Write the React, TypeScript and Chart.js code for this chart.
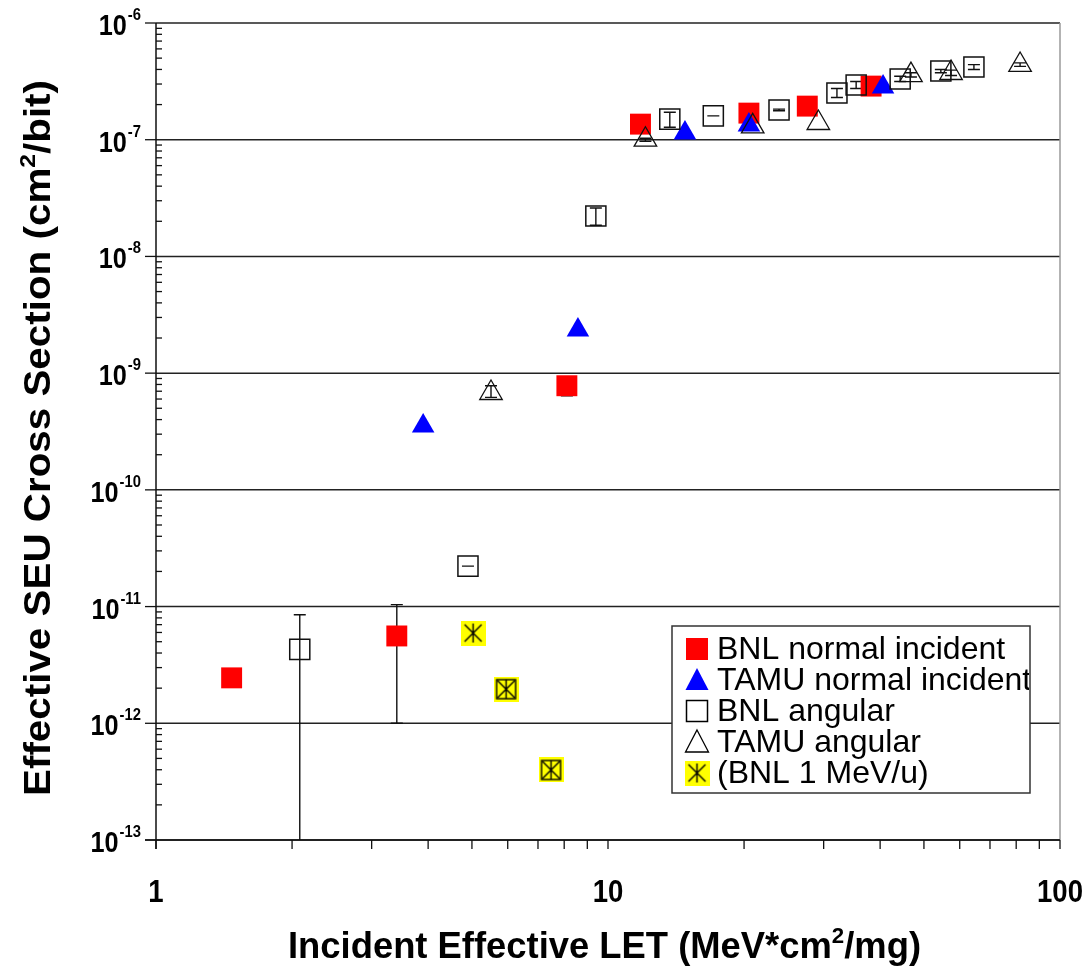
import React, { useEffect, useRef } from 'react';
import { Chart, registerables } from 'chart.js';

Chart.register(...registerables);

// ---------- Data ----------
const seriesLabels = [
  'BNL normal incident',
  'TAMU normal incident',
  'BNL angular',
  'TAMU angular',
  '(BNL 1 MeV/u)',
];

const bnlNormalX = [1.47, 3.41, 8.11, 11.8, 20.5, 27.6, 38.2];
const bnlNormalY = [2.45e-12, 5.6e-12, 7.8e-10, 1.36e-7, 1.69e-7, 1.94e-7, 2.88e-7];
const bnlNormalLo = [null, 1e-12, 6.4e-10, null, null, null, null];
const bnlNormalHi = [null, 1.04e-11, 7.8e-10, null, null, null, null];

const tamuNormalX = [3.9, 8.58, 14.8, 20.5, 40.6];
const tamuNormalY = [3.52e-10, 2.34e-9, 1.14e-7, 1.34e-7, 2.83e-7];

const bnlAngX = [2.08, 4.9, 9.4, 13.7, 17.1, 23.9, 32.1, 35.4, 44.3, 54.5, 64.5];
const bnlAngY = [4.3e-12, 2.22e-11, 2.22e-8, 1.5e-7, 1.6e-7, 1.8e-7, 2.51e-7, 2.94e-7, 3.31e-7, 3.88e-7, 4.2e-7];
const bnlAngLo = [1e-13, 2.22e-11, 1.85e-8, 1.28e-7, 1.6e-7, 1.77e-7, 2.3e-7, 2.75e-7, 3.15e-7, 3.75e-7, 4.0e-7];
const bnlAngHi = [8.5e-12, 2.22e-11, 2.6e-8, 1.72e-7, 1.6e-7, 1.83e-7, 2.75e-7, 3.15e-7, 3.5e-7, 4.0e-7, 4.4e-7];

const tamuAngX = [5.51, 12.1, 20.9, 29.2, 46.8, 57.4, 81.6];
const tamuAngY = [6.76e-10, 1.0e-7, 1.3e-7, 1.39e-7, 3.58e-7, 3.73e-7, 4.37e-7];
const tamuAngLo = [6.2e-10, 0.97e-7, null, null, 3.45e-7, 3.55e-7, 4.25e-7];
const tamuAngHi = [7.8e-10, 1.03e-7, null, null, 3.75e-7, 3.95e-7, 4.55e-7];

const bnl1X = [5.03, 5.95, 7.48];
const bnl1Y = [5.93e-12, 1.96e-12, 3.98e-13];
const bnl1Boxed = [false, true, true];

const xTickValues = [1, 10, 100];
const yDecades = [-13, -12, -11, -10, -9, -8, -7, -6];

const xTitleSegs = [
  { t: 'Incident Effective LET (MeV*cm', sup: false },
  { t: '2', sup: true },
  { t: '/mg)', sup: false },
];
const yTitleSegs = [
  { t: 'Effective SEU Cross Section (cm', sup: false },
  { t: '2', sup: true },
  { t: '/bit)', sup: false },
];

const FONT = '"Liberation Sans", Arial, Helvetica, sans-serif';

function pts(xs: number[], ys: number[]) {
  return xs.map((x, i) => ({ x, y: ys[i] }));
}

function makeAsterisk(boxed: boolean, size = 25): HTMLCanvasElement {
  const c = document.createElement('canvas');
  c.width = size;
  c.height = size;
  const g = c.getContext('2d')!;
  g.fillStyle = '#ffff00';
  g.fillRect(0, 0, size, size);
  g.strokeStyle = '#000';
  g.lineWidth = 1.4;
  const m = 3;
  if (boxed) g.strokeRect(m, m, size - 2 * m, size - 2 * m);
  g.beginPath();
  g.moveTo(size / 2, m);
  g.lineTo(size / 2, size - m);
  g.moveTo(m + 1, m + 1);
  g.lineTo(size - m - 1, size - m - 1);
  g.moveTo(size - m - 1, m + 1);
  g.lineTo(m + 1, size - m - 1);
  g.stroke();
  return c;
}

function drawRich(
  ctx: CanvasRenderingContext2D,
  segs: { t: string; sup: boolean }[],
  size: number,
  supSize: number,
  supRise: number,
  targetW: number
) {
  let w = 0;
  for (const s of segs) {
    ctx.font = `bold ${s.sup ? supSize : size}px ${FONT}`;
    w += ctx.measureText(s.t).width;
  }
  const sx = targetW / w;
  ctx.scale(sx, 1);
  let x = 0;
  ctx.textAlign = 'left';
  ctx.textBaseline = 'alphabetic';
  for (const s of segs) {
    ctx.font = `bold ${s.sup ? supSize : size}px ${FONT}`;
    ctx.fillText(s.t, x, s.sup ? -supRise : 0);
    x += ctx.measureText(s.t).width;
  }
}

const errorSets = [
  { xs: bnlNormalX, lo: bnlNormalLo, hi: bnlNormalHi },
  { xs: bnlAngX, lo: bnlAngLo, hi: bnlAngHi },
  { xs: tamuAngX, lo: tamuAngLo, hi: tamuAngHi },
];

const decorPlugin = {
  id: 'decor',
  beforeDatasetsDraw(chart: any) {
    const { ctx, chartArea: ca } = chart;
    const xs = chart.scales.x;
    const ys = chart.scales.y;
    ctx.save();
    // horizontal grid lines at decades
    ctx.strokeStyle = '#222';
    ctx.lineWidth = 1.5;
    for (const e of yDecades) {
      const py = ys.getPixelForValue(Math.pow(10, e));
      ctx.beginPath();
      ctx.moveTo(ca.left, py);
      ctx.lineTo(ca.right, py);
      ctx.stroke();
    }
    // right frame
    ctx.strokeStyle = '#9a9a9a';
    ctx.lineWidth = 1.5;
    ctx.beginPath();
    ctx.moveTo(ca.right, ca.top);
    ctx.lineTo(ca.right, ca.bottom);
    ctx.stroke();
    // axes lines
    ctx.strokeStyle = '#111';
    ctx.lineWidth = 1.5;
    ctx.beginPath();
    ctx.moveTo(ca.left, ca.top);
    ctx.lineTo(ca.left, ca.bottom + 9);
    ctx.moveTo(ca.left - 11, ca.bottom);
    ctx.lineTo(ca.right, ca.bottom);
    ctx.stroke();
    // y ticks
    ctx.lineWidth = 1.3;
    for (const e of yDecades) {
      const py = ys.getPixelForValue(Math.pow(10, e));
      ctx.beginPath();
      ctx.moveTo(ca.left - 11, py);
      ctx.lineTo(ca.left, py);
      ctx.stroke();
      if (e < -6) {
        for (let k = 2; k <= 9; k++) {
          const p = ys.getPixelForValue(k * Math.pow(10, e));
          ctx.beginPath();
          ctx.moveTo(ca.left, p);
          ctx.lineTo(ca.left + 6, p);
          ctx.stroke();
        }
      }
    }
    // x ticks
    for (let d = 0; d <= 2; d++) {
      const base = Math.pow(10, d);
      const ks = d < 2 ? [1, 2, 3, 4, 5, 6, 7, 8, 9] : [1];
      for (const k of ks) {
        const px = xs.getPixelForValue(k * base);
        ctx.beginPath();
        ctx.moveTo(px, ca.bottom);
        ctx.lineTo(px, ca.bottom + 9);
        ctx.stroke();
      }
    }
    // error bars
    ctx.strokeStyle = '#111';
    ctx.lineWidth = 1.4;
    for (const s of errorSets) {
      s.xs.forEach((xv, i) => {
        const lo = s.lo[i];
        const hi = s.hi[i];
        if (lo == null || hi == null) return;
        const px = xs.getPixelForValue(xv);
        const pl = ys.getPixelForValue(lo);
        const ph = ys.getPixelForValue(hi);
        ctx.beginPath();
        ctx.moveTo(px, pl);
        ctx.lineTo(px, ph);
        if (lo > 1e-13) {
          ctx.moveTo(px - 6, pl);
          ctx.lineTo(px + 6, pl);
        }
        ctx.moveTo(px - 6, ph);
        ctx.lineTo(px + 6, ph);
        ctx.stroke();
      });
    }
    ctx.restore();
  },
  afterDraw(chart: any) {
    const { ctx } = chart;
    const xs = chart.scales.x;
    const ys = chart.scales.y;
    ctx.save();
    ctx.fillStyle = '#000';
    // y tick labels (narrow bold)
    const yScaleX = 0.87;
    for (const e of yDecades) {
      const py = ys.getPixelForValue(Math.pow(10, e));
      ctx.font = `bold 29px ${FONT}`;
      const w10 = ctx.measureText('10').width * yScaleX;
      ctx.font = `bold 17px ${FONT}`;
      const sup = String(e);
      const ws = ctx.measureText(sup).width * yScaleX;
      const right = 141;
      ctx.textAlign = 'left';
      ctx.textBaseline = 'alphabetic';
      ctx.save();
      ctx.translate(right - ws - w10 - 1, py + 12);
      ctx.scale(yScaleX, 1);
      ctx.font = `bold 29px ${FONT}`;
      ctx.fillText('10', 0, 0);
      ctx.restore();
      ctx.save();
      ctx.translate(right - ws, py - 3);
      ctx.scale(yScaleX, 1);
      ctx.font = `bold 17px ${FONT}`;
      ctx.fillText(sup, 0, 0);
      ctx.restore();
    }
    // x tick labels
    ctx.font = `bold 31px ${FONT}`;
    ctx.textAlign = 'center';
    ctx.textBaseline = 'alphabetic';
    for (const v of xTickValues) {
      ctx.save();
      ctx.translate(xs.getPixelForValue(v), 902);
      ctx.scale(0.89, 1);
      ctx.fillText(String(v), 0, 0);
      ctx.restore();
    }
    // x title
    ctx.save();
    ctx.translate(288, 958);
    drawRich(ctx, xTitleSegs, 36, 22, 15, 633);
    ctx.restore();
    // y title
    ctx.save();
    ctx.translate(50, 796);
    ctx.rotate(-Math.PI / 2);
    drawRich(ctx, yTitleSegs, 36, 22, 15, 716);
    ctx.restore();

    // legend
    const lx = 672, ly = 626, lw = 358, lh = 167;
    ctx.fillStyle = '#fff';
    ctx.fillRect(lx, ly, lw, lh);
    ctx.strokeStyle = '#333';
    ctx.lineWidth = 1.5;
    ctx.strokeRect(lx, ly, lw, lh);
    ctx.save();
    ctx.beginPath();
    ctx.rect(lx, ly, lw - 1, lh);
    ctx.clip();
    const rows = [649, 680, 711, 742, 773];
    const mx = 697;
    rows.forEach((ry, i) => {
      ctx.lineWidth = 1.5;
      if (i === 0) {
        ctx.fillStyle = '#ff0000';
        ctx.fillRect(mx - 11, ry - 11, 22, 22);
      } else if (i === 1 || i === 3) {
        ctx.beginPath();
        ctx.moveTo(mx, ry - 12);
        ctx.lineTo(mx + 11.5, ry + 10);
        ctx.lineTo(mx - 11.5, ry + 10);
        ctx.closePath();
        if (i === 1) {
          ctx.fillStyle = '#0000ff';
          ctx.fill();
        } else {
          ctx.strokeStyle = '#000';
          ctx.lineWidth = 1.3;
          ctx.stroke();
        }
      } else if (i === 2) {
        ctx.strokeStyle = '#000';
        ctx.strokeRect(mx - 10.5, ry - 10.5, 21, 21);
      } else {
        const img = makeAsterisk(false, 25);
        ctx.drawImage(img, mx - 12.5, ry - 12.5);
      }
      ctx.fillStyle = '#000';
      ctx.font = `32px ${FONT}`;
      ctx.textAlign = 'left';
      ctx.textBaseline = 'middle';
      ctx.fillText(seriesLabels[i], 717, ry + 1);
    });
    ctx.restore();
    ctx.restore();
  },
};

export default function App() {
  const ref = useRef<HTMLCanvasElement | null>(null);
  useEffect(() => {
    document.body.style.margin = '0';
    const canvas = ref.current!;
    const starBoxed = makeAsterisk(true, 25);
    const starPlain = makeAsterisk(false, 25);
    const chart = new Chart(canvas, {
      type: 'scatter',
      data: {
        datasets: [
          {
            label: seriesLabels[0],
            data: pts(bnlNormalX, bnlNormalY),
            pointStyle: 'rect',
            pointRadius: 14.8,
            backgroundColor: '#ff0000',
            borderColor: '#ff0000',
            borderWidth: 0,
            order: 5,
          },
          {
            label: seriesLabels[1],
            data: pts(tamuNormalX, tamuNormalY),
            pointStyle: 'triangle',
            pointRadius: 13,
            backgroundColor: '#0000ff',
            borderColor: '#0000ff',
            borderWidth: 0,
            order: 4,
          },
          {
            label: seriesLabels[2],
            data: pts(bnlAngX, bnlAngY),
            pointStyle: 'rect',
            pointRadius: 14.2,
            backgroundColor: 'rgba(0,0,0,0)',
            borderColor: '#111',
            borderWidth: 1.5,
            order: 3,
          },
          {
            label: seriesLabels[3],
            data: pts(tamuAngX, tamuAngY),
            pointStyle: 'triangle',
            pointRadius: 13,
            backgroundColor: 'rgba(0,0,0,0)',
            borderColor: '#111',
            borderWidth: 1.3,
            order: 2,
          },
          {
            label: seriesLabels[4],
            data: pts(bnl1X, bnl1Y),
            pointStyle: bnl1Boxed.map((b) => (b ? starBoxed : starPlain)) as any,
            pointRadius: 12,
            backgroundColor: '#ffff00',
            borderColor: '#000',
            order: 1,
          },
        ],
      },
      options: {
        responsive: false,
        animation: false,
        layout: { padding: { left: 0, top: 23, right: 29, bottom: 0 } },
        plugins: {
          legend: { display: false },
          tooltip: { enabled: false },
          title: { display: false },
        },
        scales: {
          x: {
            type: 'logarithmic',
            min: 1,
            max: 100,
            grid: { display: false },
            border: { display: false },
            ticks: { display: false },
            afterFit: (s: any) => {
              s.height = 128;
            },
          },
          y: {
            type: 'logarithmic',
            min: 1e-13,
            max: 1e-6,
            grid: { display: false },
            border: { display: false },
            ticks: { display: false },
            afterFit: (s: any) => {
              s.width = 156;
            },
          },
        },
      },
      plugins: [decorPlugin],
    });
    return () => chart.destroy();
  }, []);
  return <canvas ref={ref} width={1089} height={968} style={{ display: 'block' }} />;
}
